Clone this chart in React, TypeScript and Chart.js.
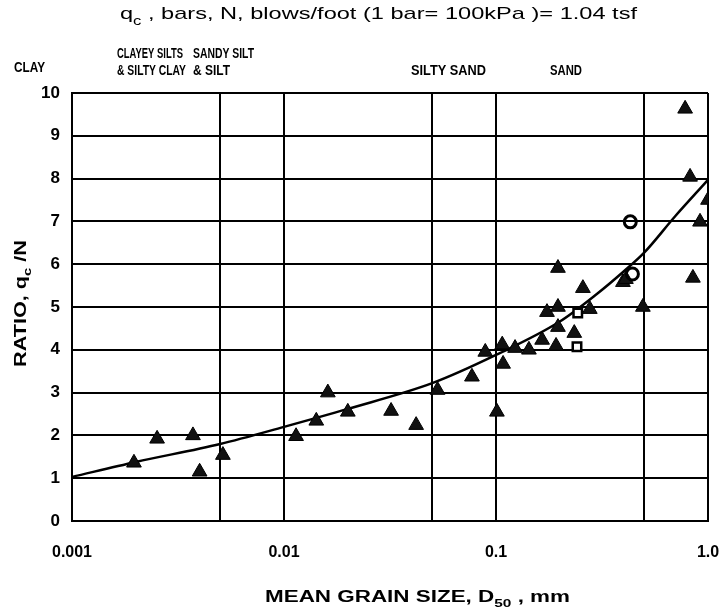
import { useEffect, useRef } from 'react';
import { Chart, registerables } from 'chart.js';

Chart.register(...registerables);

// ---- data ----
const xGridValues = [0.001, 0.005, 0.01, 0.05, 0.1, 0.5, 1.0];
const xTickLabels = ['0.001', '', '0.01', '', '0.1', '', '1.0'];
const yTickValues = [0, 1, 2, 3, 4, 5, 6, 7, 8, 9, 10];

const triangleX = [
  0.00196, 0.00252, 0.00372, 0.004, 0.00515, 0.0114, 0.0142, 0.0161, 0.02,
  0.032, 0.042, 0.053, 0.077, 0.101, 0.108, 0.089, 0.107, 0.123, 0.143,
  0.165, 0.192, 0.234, 0.196, 0.174, 0.196, 0.277, 0.257, 0.196, 0.397,
  0.41, 0.493, 0.849, 0.78, 0.823, 1.0, 0.917,
];
const triangleY = [
  1.36, 1.92, 2.0, 1.15, 1.54, 1.98, 2.34, 3.0, 2.55,
  2.57, 2.24, 3.06, 3.37, 2.55, 3.67, 3.95, 4.12, 4.04, 4.0,
  4.23, 4.09, 4.39, 4.53, 4.88, 5.0, 4.95, 5.44, 5.91, 5.58,
  5.65, 5.0, 5.68, 9.63, 8.04, 7.5, 6.99,
];
const circleX = [0.43, 0.44];
const circleY = [6.99, 5.77];
const squareX = [0.241, 0.243];
const squareY = [4.07, 4.86];

const curveX = [0.001, 0.002, 0.005, 0.01, 0.02, 0.05, 0.1, 0.2, 0.3, 0.4, 0.5, 0.7, 1.0];
const curveY = [1.03, 1.38, 1.8, 2.2, 2.62, 3.22, 3.88, 4.66, 5.31, 5.83, 6.27, 7.12, 7.97];

const titleParts = ['q', 'c', ' , bars, N, blows/foot (1 bar= 100kPa )= 1.04 tsf'];
const soilLabels = ['CLAY', 'CLAYEY SILTS', '& SILTY CLAY', 'SANDY SILT', '& SILT', 'SILTY SAND', 'SAND'];
const xTitleParts = ['MEAN GRAIN SIZE, D', '50', ' , mm'];
const yTitleParts = ['RATIO, q', 'c', ' /N'];

const FAMILY = '"Liberation Sans", Arial, sans-serif';

type Seg = { text: string; size: number; weight?: string; dy?: number };

function drawRich(ctx: CanvasRenderingContext2D, segs: Seg[], x: number, baseline: number, width: number | null) {
  ctx.save();
  let total = 0;
  const widths = segs.map((s) => {
    ctx.font = `${s.weight || 'normal'} ${s.size}px ${FAMILY}`;
    const w = ctx.measureText(s.text).width;
    total += w;
    return w;
  });
  const sx = width ? width / total : 1;
  ctx.translate(x, baseline);
  ctx.scale(sx, 1);
  ctx.textAlign = 'left';
  ctx.textBaseline = 'alphabetic';
  ctx.fillStyle = '#000';
  let cx = 0;
  segs.forEach((s, i) => {
    ctx.font = `${s.weight || 'normal'} ${s.size}px ${FAMILY}`;
    ctx.fillText(s.text, cx, s.dy || 0);
    cx += widths[i];
  });
  ctx.restore();
}

const textPlugin = {
  id: 'textPlugin',
  afterDraw(chart: any) {
    const ctx: CanvasRenderingContext2D = chart.ctx;
    // title
    drawRich(ctx, [
      { text: titleParts[0], size: 17 },
      { text: titleParts[1], size: 12, dy: 6 },
      { text: titleParts[2], size: 17 },
    ], 120, 19, 517);
    // soil classes
    const b = 'bold';
    drawRich(ctx, [{ text: soilLabels[0], size: 14, weight: b }], 14, 72, 31);
    drawRich(ctx, [{ text: soilLabels[1], size: 14, weight: b }], 117, 58, 66);
    drawRich(ctx, [{ text: soilLabels[2], size: 14, weight: b }], 117, 75, 69);
    drawRich(ctx, [{ text: soilLabels[3], size: 14, weight: b }], 193, 58, 61);
    drawRich(ctx, [{ text: soilLabels[4], size: 14, weight: b }], 193, 75, 37);
    drawRich(ctx, [{ text: soilLabels[5], size: 14, weight: b }], 411, 75, 75);
    drawRich(ctx, [{ text: soilLabels[6], size: 14, weight: b }], 550, 75, 32);
    // x title
    drawRich(ctx, [
      { text: xTitleParts[0], size: 16, weight: '600' },
      { text: xTitleParts[1], size: 11, weight: '600', dy: 5 },
      { text: xTitleParts[2], size: 16, weight: '600' },
    ], 265, 602, 305);
    // y title (rotated)
    ctx.save();
    ctx.translate(26, 367);
    ctx.rotate(-Math.PI / 2);
    drawRich(ctx, [
      { text: yTitleParts[0], size: 16, weight: 'bold' },
      { text: yTitleParts[1], size: 11, weight: 'bold', dy: 5 },
      { text: yTitleParts[2], size: 16, weight: 'bold' },
    ], 0, 0, 127);
    ctx.restore();
  },
};

export default function App() {
  const ref = useRef<HTMLCanvasElement>(null);
  useEffect(() => {
    if (!ref.current) return;
    const tri = triangleX.map((x, i) => ({ x, y: triangleY[i] }));
    const cir = circleX.map((x, i) => ({ x, y: circleY[i] }));
    const sq = squareX.map((x, i) => ({ x, y: squareY[i] }));
    const cur = curveX.map((x, i) => ({ x, y: curveY[i] }));
    const chart = new Chart(ref.current, {
      type: 'scatter',
      data: {
        datasets: [
          {
            type: 'line',
            data: cur,
            borderColor: '#000',
            borderWidth: 2.5,
            pointRadius: 0,
            cubicInterpolationMode: 'monotone',
            fill: false,
            order: 4,
          } as any,
          {
            data: tri,
            pointStyle: 'triangle',
            pointRadius: 8.5,
            backgroundColor: '#111',
            borderColor: '#000',
            borderWidth: 1,
            order: 3,
          },
          {
            data: sq,
            pointStyle: 'rect',
            pointRadius: 6,
            backgroundColor: '#fff',
            borderColor: '#000',
            borderWidth: 2.5,
            order: 2,
          },
          {
            data: cir,
            pointStyle: 'circle',
            pointRadius: 6,
            backgroundColor: 'rgba(255,255,255,0)',
            borderColor: '#000',
            borderWidth: 3,
            order: 1,
          },
        ],
      },
      options: {
        responsive: false,
        animation: false,
        events: [],
        layout: { padding: { left: 0, right: 15, top: 93, bottom: 0 } },
        plugins: { legend: { display: false }, tooltip: { enabled: false }, title: { display: false } },
        scales: {
          x: {
            type: 'logarithmic',
            min: 0.001,
            max: 1,
            afterBuildTicks: (scale: any) => {
              scale.ticks = xGridValues.map((v) => ({ value: v }));
            },
            afterFit: (scale: any) => {
              scale.height = 93;
            },
            grid: { color: '#000', lineWidth: 2, drawTicks: true, tickLength: 20, tickColor: 'rgba(0,0,0,0)' },
            border: { display: true, color: '#000', width: 2 },
            ticks: {
              autoSkip: false,
              maxRotation: 0,
              padding: 2,
              color: '#000',
              font: { family: FAMILY, size: 16, weight: 'bold' },
              callback: (_v: any, i: number) => xTickLabels[i],
            },
          },
          y: {
            type: 'linear',
            min: 0,
            max: 10,
            afterBuildTicks: (scale: any) => {
              scale.ticks = yTickValues.map((v) => ({ value: v }));
            },
            afterFit: (scale: any) => {
              scale.width = 72;
            },
            grid: { color: '#000', lineWidth: 2, drawTicks: false },
            border: { display: true, color: '#000', width: 2 },
            ticks: {
              padding: 12,
              color: '#000',
              font: { family: FAMILY, size: 17, weight: 'bold' },
              callback: (v: any) => String(v),
            },
          },
        },
      },
      plugins: [textPlugin],
    } as any);
    return () => chart.destroy();
  }, []);
  return (
    <div style={{ position: 'fixed', left: 0, top: 0, width: 723, height: 614, background: '#fff' }}>
      <canvas ref={ref} width={723} height={614} style={{ display: 'block', width: 723, height: 614 }} />
    </div>
  );
}
